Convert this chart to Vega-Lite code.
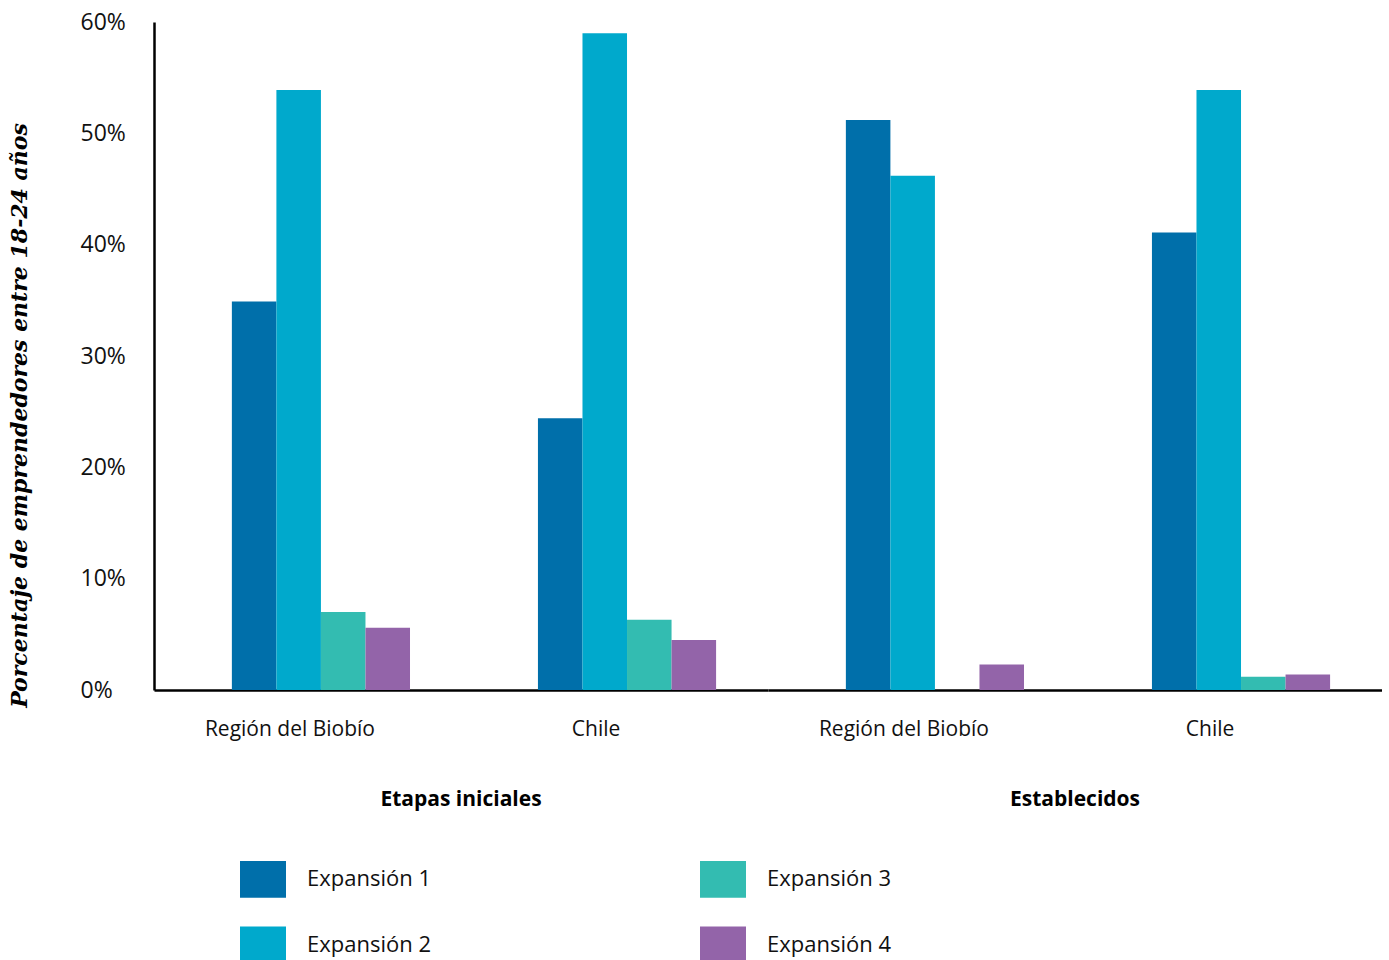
{
  "$schema": "https://vega.github.io/schema/vega-lite/v6.json",
  "padding": {"left": 8, "top": 11, "right": 0, "bottom": 0},
  "background": "white",
  "config": {"view": {"stroke": null}, "font": "Open Sans"},
  "data": {"values": [
    {"stage": "Etapas iniciales", "region": "Región del Biobío", "series": "Expansión 1", "value": 34.9},
    {"stage": "Etapas iniciales", "region": "Región del Biobío", "series": "Expansión 2", "value": 53.9},
    {"stage": "Etapas iniciales", "region": "Región del Biobío", "series": "Expansión 3", "value": 7.0},
    {"stage": "Etapas iniciales", "region": "Región del Biobío", "series": "Expansión 4", "value": 5.6},
    {"stage": "Etapas iniciales", "region": "Chile", "series": "Expansión 1", "value": 24.4},
    {"stage": "Etapas iniciales", "region": "Chile", "series": "Expansión 2", "value": 59.0},
    {"stage": "Etapas iniciales", "region": "Chile", "series": "Expansión 3", "value": 6.3},
    {"stage": "Etapas iniciales", "region": "Chile", "series": "Expansión 4", "value": 4.5},
    {"stage": "Establecidos", "region": "Región del Biobío", "series": "Expansión 1", "value": 51.2},
    {"stage": "Establecidos", "region": "Región del Biobío", "series": "Expansión 2", "value": 46.2},
    {"stage": "Establecidos", "region": "Región del Biobío", "series": "Expansión 3", "value": 0},
    {"stage": "Establecidos", "region": "Región del Biobío", "series": "Expansión 4", "value": 2.3},
    {"stage": "Establecidos", "region": "Chile", "series": "Expansión 1", "value": 41.1},
    {"stage": "Establecidos", "region": "Chile", "series": "Expansión 2", "value": 53.9},
    {"stage": "Establecidos", "region": "Chile", "series": "Expansión 3", "value": 1.2},
    {"stage": "Establecidos", "region": "Chile", "series": "Expansión 4", "value": 1.4}
  ]},
  "facet": {
    "column": {
      "field": "stage", "type": "nominal",
      "sort": ["Etapas iniciales", "Establecidos"],
      "title": null,
      "header": {"labelOrient": "bottom", "labelFont": "Open Sans", "labelFontWeight": "bold", "labelFontSize": 21, "labelColor": "black", "labelPadding": 50}
    }
  },
  "spacing": 0,
  "spec": {
    "width": 614,
    "height": 668,
    "mark": {"type": "bar"},
    "encoding": {
      "x": {
        "field": "region", "type": "nominal",
        "sort": ["Región del Biobío", "Chile"],
        "scale": {"paddingInner": 0.418, "paddingOuter": 0.212, "align": 0.6},
        "axis": {"title": null, "labelAngle": 0, "ticks": false, "domainColor": "black", "domainWidth": 2.5, "labelFontSize": 21, "labelPadding": 28, "labelOffset": -31, "labelColor": "#111", "labelFont": "Open Sans"}
      },
      "xOffset": {"field": "series", "type": "nominal", "sort": ["Expansión 1", "Expansión 2", "Expansión 3", "Expansión 4"]},
      "y": {
        "field": "value", "type": "quantitative",
        "scale": {"domain": [0, 60], "nice": false},
        "axis": {
          "values": [0, 10, 20, 30, 40, 50, 60],
          "labelExpr": "datum.value + '%'",
          "grid": false, "ticks": false,
          "domainColor": "black", "domainWidth": 2.5,
          "labelAlign": "left", "labelPadding": 74, "labelFontSize": 23, "labelColor": "#111", "labelFont": "Open Sans",
          "title": "Porcentaje de emprendedores entre 18-24 años",
          "titleFont": "DejaVu Serif", "titleFontStyle": "italic", "titleFontWeight": "bold", "titleFontSize": 22, "titleColor": "black",
          "titlePadding": 49, "titleY": 393
        }
      },
      "color": {
        "field": "series", "type": "nominal",
        "scale": {"domain": ["Expansión 1", "Expansión 2", "Expansión 3", "Expansión 4"], "range": ["#006FAA", "#00A9CC", "#33BCB1", "#9364A9"]},
        "legend": {
          "title": null, "orient": "none", "legendX": 86, "legendY": 834,
          "columns": 2, "symbolType": "M-1,-0.8H1V0.8H-1Z", "symbolSize": 2116, "symbolStrokeWidth": 0,
          "labelFontSize": 22, "labelFont": "Open Sans", "labelColor": "#111", "labelOffset": 21,
          "columnPadding": 269, "rowPadding": 24
        }
      }
    }
  }
}
